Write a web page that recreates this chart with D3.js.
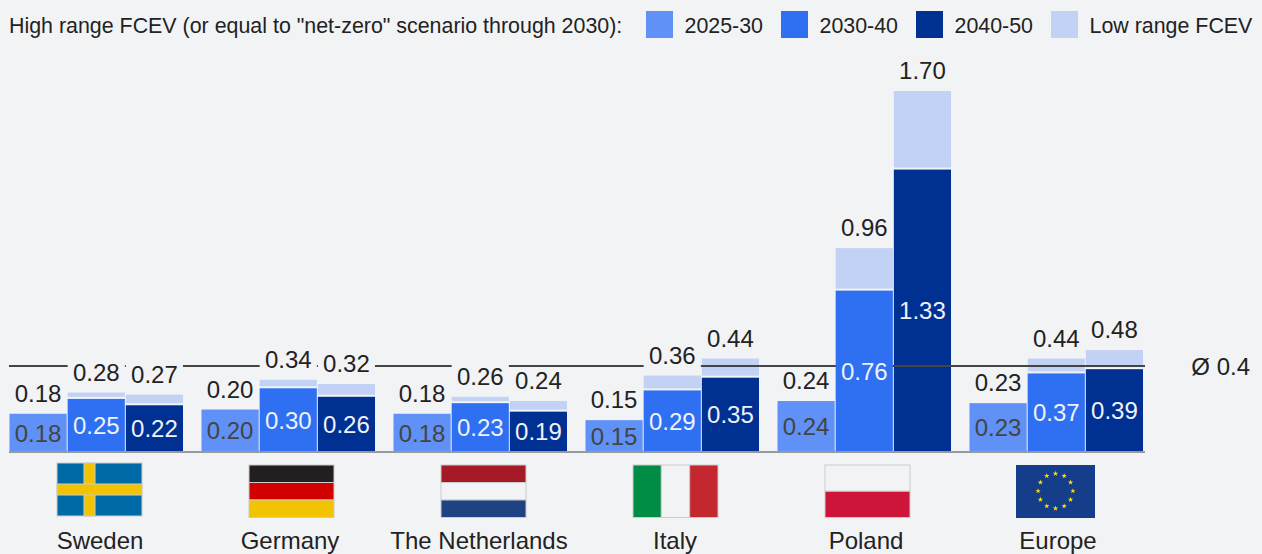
<!DOCTYPE html>
<html>
<head>
<meta charset="utf-8">
<script src="https://cdn.jsdelivr.net/npm/d3@7"></script>
<style>
html, body { margin: 0; padding: 0; background: #f2f3f5; overflow: hidden; }
text { font-family: "Liberation Sans", Arial, sans-serif; }
</style>
</head>
<body>
<svg id="my_container" width="1262" height="554"></svg>
<script>
var countries = ["Sweden", "Germany", "The Netherlands", "Italy", "Poland", "Europe"];
var periods = ["2025-30", "2030-40", "2040-50"];
// high range values per period
var high_2025 = [0.18, 0.20, 0.18, 0.15, 0.24, 0.23];
var high_2030 = [0.25, 0.30, 0.23, 0.29, 0.76, 0.37];
var high_2040 = [0.22, 0.26, 0.19, 0.35, 1.33, 0.39];
// totals printed above the bars
var total_2025 = [0.18, 0.20, 0.18, 0.15, 0.24, 0.23];
var total_2030 = [0.28, 0.34, 0.26, 0.36, 0.96, 0.44];
var total_2040 = [0.27, 0.32, 0.24, 0.44, 1.70, 0.48];
var average = 0.4;

var legend_title = 'High range FCEV (or equal to "net-zero" scenario through 2030):';
var legend_labels = ["2025-30", "2030-40", "2040-50", "Low range FCEV"];
var colors = ["#5f91f7", "#2f6ff2", "#003092", "#c2d2f4"];
var bg = "#f2f3f5";

var highs = [high_2025, high_2030, high_2040];
var totals = [total_2025, total_2030, total_2040];

var svg = d3.select("#my_container");

var xGroup = d3.scaleBand().domain(countries).range([9, 1161]);
var xBar = d3.scaleBand().domain(periods).range([0, 174.5]);
var y = d3.scaleLinear().domain([0, 1.70]).range([452, 91]);

function avgLine(x1, x2){
    svg.append("line")
        .attr("x1", x1)
        .attr("x2", x2)
        .attr("y1", y(average) - 1)
        .attr("y2", y(average) - 1)
        .attr("stroke", "#444")
        .attr("stroke-width", 2);
}

// reference line goes first, the label boxes cover it
avgLine(9, 1145);

var bars = [];
countries.forEach(function(c, i){
    periods.forEach(function(p, j){
        bars.push({country: c, period: p, j: j, high: highs[j][i], total: totals[j][i]});
    });
});

function barX(d){ return xGroup(d.country) + xBar(d.period); }

var groups = svg.selectAll("g.bar").data(bars).enter().append("g").attr("class", "bar");

// box behind the upper label, a hair narrower than the bar
groups.append("rect")
    .attr("x", function(d){ return barX(d) + 0.5; })
    .attr("width", xBar.bandwidth() - 1)
    .attr("y", function(d){ return y(d.total) - 33; })
    .attr("height", 25)
    .attr("fill", bg);

groups.filter(function(d){ return d.total > d.high; })
    .append("rect")
    .attr("x", function(d){ return barX(d) + 0.5; })
    .attr("width", xBar.bandwidth() - 1)
    .attr("y", function(d){ return y(d.total); })
    .attr("height", function(d){ return y(d.high) - y(d.total) - 2; })
    .attr("fill", colors[3]);

groups.append("rect")
    .attr("x", function(d){ return barX(d) + 0.5; })
    .attr("width", xBar.bandwidth() - 1)
    .attr("y", function(d){ return y(d.high); })
    .attr("height", function(d){ return y(0) - y(d.high); })
    .attr("fill", function(d){ return colors[d.j]; });

// line runs over the bars that reach it, except where a label box sits
[["Poland", "2040-50"], ["Italy", "2040-50"], ["Europe", "2030-40"], ["Europe", "2040-50"]].forEach(function(b){
    var x0 = xGroup(b[0]) + xBar(b[1]);
    avgLine(x0, x0 + xBar.bandwidth());
});

// upper labels
svg.selectAll("text.total").data(bars).enter().append("text")
    .attr("class", "total")
    .attr("x", function(d){ return barX(d) + xBar.bandwidth() / 2; })
    .attr("y", function(d){ return y(d.total) - 20.5; })
    .attr("dy", "0.36em")
    .attr("text-anchor", "middle")
    .attr("font-size", 24)
    .attr("fill", "#222")
    .text(function(d){ return d.total.toFixed(2); });

// labels inside the bars
svg.selectAll("text.high").data(bars).enter().append("text")
    .attr("class", "high")
    .attr("x", function(d){ return barX(d) + xBar.bandwidth() / 2; })
    .attr("y", function(d){ return (y(d.high) + y(0)) / 2; })
    .attr("dy", "0.36em")
    .attr("text-anchor", "middle")
    .attr("font-size", 24)
    .attr("fill", function(d){ return d.j == 0 ? "#444" : "#eef2fb"; })
    .text(function(d){ return d.high.toFixed(2); });

// baseline and country names
var labelShift = [-5, -7, -10, -6, -7, -7];
var axis = svg.append("g")
    .attr("transform", "translate(0," + y(0) + ")")
    .call(d3.axisBottom(xGroup).tickSize(0).tickPadding(79.8));
axis.select(".domain").remove();
axis.selectAll("text")
    .attr("font-size", 24)
    .attr("fill", "#222")
    .attr("font-family", null)
    .attr("dx", function(d, i){ return labelShift[i]; });

svg.append("line")
    .attr("x1", 9)
    .attr("x2", 1145)
    .attr("y1", y(0))
    .attr("y2", y(0))
    .attr("stroke", "#999")
    .attr("stroke-width", 2);

svg.append("text")
    .attr("x", 1250)
    .attr("y", y(average) - 1)
    .attr("dy", "0.36em")
    .attr("text-anchor", "end")
    .attr("font-size", 24)
    .attr("fill", "#222")
    .text("Ø " + average);

// legend
svg.append("text")
    .attr("x", 9)
    .attr("y", 33)
    .attr("font-size", 21.4)
    .attr("fill", "#222")
    .text(legend_title);

var legend = svg.selectAll("g.legend").data(legend_labels).enter().append("g").attr("class", "legend");
var legendScale = d3.scalePoint().domain(legend_labels).range([646, 1051]);
legend.append("rect")
    .attr("x", function(d){ return legendScale(d); })
    .attr("y", 11)
    .attr("width", 27)
    .attr("height", 27)
    .attr("fill", function(d, i){ return colors[i]; });
legend.append("text")
    .attr("x", function(d){ return legendScale(d) + 38.5; })
    .attr("y", 33)
    .attr("font-size", 21.4)
    .attr("fill", "#222")
    .text(function(d){ return d; });

// flags
var stripes_de = ["#231f20", "#d20000", "#f2c300"];
var stripes_nl = ["#a51a26", "#f2f3f5", "#1f4282"];
var stripes_it = ["#008c45", "#f2f3f5", "#c3272f"];
var stripes_pl = ["#f2f3f5", "#ce1439"];
var flagEdge = "#ccc";

function flagBox(c){
    var cx = xGroup(c) + xGroup.bandwidth() / 2 - 5.5;
    return {x: cx - 42.5, y: 465, w: 85, h: 52.5};
}

function hStripes(c, cols){
    var b = flagBox(c);
    var s = d3.scaleBand().domain(d3.range(cols.length)).range([b.y, b.y + b.h]);
    svg.append("g").selectAll("rect").data(cols).enter().append("rect")
        .attr("x", b.x)
        .attr("y", function(d, i){ return s(i); })
        .attr("width", b.w)
        .attr("height", s.bandwidth())
        .attr("fill", function(d){ return d; })
        .attr("stroke", flagEdge);
}

function vStripes(c, cols){
    var b = flagBox(c);
    var s = d3.scaleBand().domain(d3.range(cols.length)).range([b.x, b.x + b.w]);
    svg.append("g").selectAll("rect").data(cols).enter().append("rect")
        .attr("x", function(d, i){ return s(i); })
        .attr("y", b.y)
        .attr("width", s.bandwidth())
        .attr("height", b.h)
        .attr("fill", function(d){ return d; })
        .attr("stroke", flagEdge);
}

hStripes("Germany", stripes_de);
hStripes("The Netherlands", stripes_nl);
vStripes("Italy", stripes_it);
hStripes("Poland", stripes_pl);

// Sweden
var se = flagBox("Sweden");
svg.append("rect").attr("x", se.x).attr("y", se.y - 2).attr("width", se.w).attr("height", 53)
    .attr("fill", "#006aa7").attr("stroke", flagEdge);
svg.append("rect").attr("x", se.x + 27).attr("y", se.y - 2).attr("width", 11).attr("height", 53)
    .attr("fill", "#f2c300").attr("stroke", flagEdge);
svg.append("rect").attr("x", se.x).attr("y", se.y + 19).attr("width", se.w).attr("height", 11)
    .attr("fill", "#f2c300").attr("stroke", flagEdge);

// EU
var eu = flagBox("Europe");
svg.append("rect").attr("x", eu.x - 1).attr("y", 465).attr("width", 79).attr("height", 53).attr("fill", "#163d8a");
var starAngle = d3.scaleLinear().domain([0, 12]).range([0, 2 * Math.PI]);
var star = d3.symbol().type(d3.symbolStar).size(9);
svg.append("g").selectAll("path").data(d3.range(12)).enter().append("path")
    .attr("d", star)
    .attr("fill", "#ffe000")
    .attr("transform", function(d){
        var cx = eu.x - 1 + 39.5, cy = 491;
        return "translate(" + (cx + 17.4 * Math.sin(starAngle(d))) + "," + (cy - 17.4 * Math.cos(starAngle(d))) + ")";
    });
</script>
</body>
</html>
